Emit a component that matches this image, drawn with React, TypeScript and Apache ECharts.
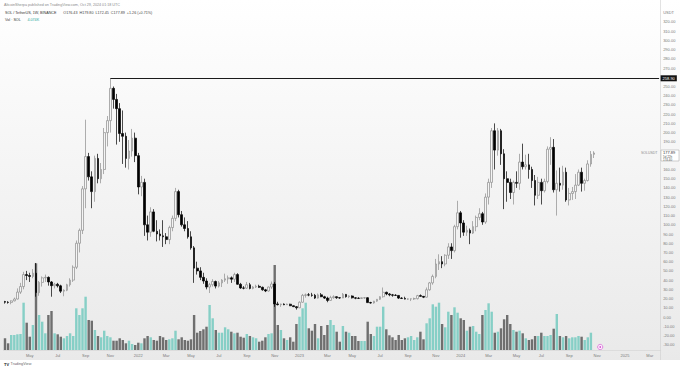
import React, { useEffect, useRef } from 'react';
import * as echarts from 'echarts';

// Weekly SOL/USDT candles, first week starting 2021-03-08
const START_DATE = Date.UTC(2021, 2, 8);
const FUTURE_WEEKS = 21;

// [open, high, low, close]
const ohlc: number[][] = [
  [16.8, 17.5, 14.5, 16.0], [16.0, 17.2, 14.5, 15.8], [15.8, 18.0, 13.8, 17.5], [17.5, 21.0, 17.0, 19.5],
  [19.5, 31.0, 19.0, 27.0], [27.0, 37.0, 25.0, 33.0], [33.0, 49.0, 30.0, 46.0], [46.0, 50.0, 40.0, 45.0],
  [45.0, 48.0, 38.0, 44.0], [44.0, 52.0, 42.0, 47.5], [47.5, 58.6, 22.0, 26.5], [26.5, 39.0, 23.0, 37.5],
  [37.5, 44.0, 33.0, 42.5], [42.5, 46.0, 38.0, 43.0], [43.0, 44.0, 34.0, 38.0], [38.0, 39.0, 22.0, 34.0],
  [34.0, 37.0, 31.0, 35.5], [35.5, 37.0, 32.0, 33.8], [33.8, 35.0, 26.0, 28.0], [28.0, 30.0, 22.5, 29.0],
  [29.0, 36.0, 28.0, 35.0], [35.0, 42.0, 33.0, 40.0], [40.0, 56.0, 38.0, 54.0], [54.0, 83.0, 52.0, 80.0],
  [80.0, 96.0, 70.0, 94.0], [94.0, 142.0, 90.0, 139.0], [139.0, 214.0, 118.0, 174.0], [174.0, 178.0, 148.0, 152.0],
  [152.0, 158.0, 118.0, 136.0], [136.0, 175.0, 125.0, 172.0], [172.0, 177.0, 145.0, 150.0], [150.0, 167.0, 145.0, 160.0],
  [160.0, 205.0, 155.0, 200.0], [200.0, 218.0, 185.0, 213.0], [213.0, 259.0, 200.0, 248.0], [248.0, 250.0, 226.0, 236.0],
  [236.0, 242.0, 187.0, 226.0], [226.0, 232.0, 190.0, 199.0], [199.0, 224.0, 166.0, 196.0], [196.0, 200.0, 162.0, 172.0],
  [172.0, 192.0, 160.0, 180.0], [180.0, 204.0, 174.0, 194.0], [194.0, 200.0, 168.0, 175.0], [175.0, 178.0, 133.0, 141.0],
  [141.0, 153.0, 131.0, 146.0], [146.0, 150.0, 88.0, 100.0], [100.0, 110.0, 83.0, 92.0], [92.0, 119.0, 87.0, 114.0],
  [114.0, 117.0, 92.0, 93.0], [93.0, 105.0, 82.0, 90.0], [90.0, 95.0, 83.0, 88.0], [88.0, 105.0, 76.0, 87.0],
  [87.0, 91.0, 79.0, 84.0], [84.0, 99.0, 79.0, 97.0], [97.0, 110.0, 93.0, 107.0], [107.0, 140.0, 104.0, 136.0],
  [136.0, 138.0, 108.0, 111.0], [111.0, 115.0, 98.0, 100.0], [100.0, 108.0, 93.0, 96.0], [96.0, 104.0, 85.0, 87.0],
  [87.0, 93.0, 73.0, 75.0], [75.0, 77.0, 37.0, 53.0], [53.0, 60.0, 46.0, 50.0], [50.0, 54.0, 40.0, 43.0],
  [43.0, 48.0, 36.0, 39.0], [39.0, 42.0, 30.0, 32.5], [32.5, 37.0, 26.0, 35.0], [35.0, 41.0, 33.0, 38.5],
  [38.5, 39.5, 31.0, 33.5], [33.5, 39.0, 32.0, 37.0], [37.0, 41.0, 32.5, 40.0], [40.0, 47.0, 38.0, 41.5],
  [41.5, 45.0, 36.0, 42.5], [42.5, 44.0, 37.0, 41.0], [41.0, 48.0, 38.0, 46.0], [46.0, 47.5, 35.0, 35.5],
  [35.5, 37.0, 30.5, 31.5], [31.5, 33.5, 30.0, 31.3], [31.3, 38.0, 30.5, 35.0], [35.0, 37.0, 30.0, 31.0],
  [31.0, 33.5, 30.0, 32.5], [32.5, 35.0, 31.5, 33.3], [33.3, 35.0, 31.5, 32.2], [32.2, 33.0, 28.5, 29.5],
  [29.5, 30.5, 27.0, 28.2], [28.2, 33.0, 27.5, 32.5], [32.5, 38.5, 30.5, 35.8], [35.8, 38.0, 11.0, 14.2],
  [14.2, 16.5, 12.5, 13.4], [13.4, 14.5, 11.0, 14.0], [14.0, 14.8, 12.8, 13.3], [13.3, 14.5, 13.0, 13.9],
  [13.9, 14.4, 11.8, 12.2], [12.2, 12.6, 10.8, 11.2], [11.2, 11.8, 8.0, 10.0], [10.0, 17.0, 9.6, 16.0],
  [16.0, 25.0, 15.5, 23.5], [23.5, 25.5, 21.0, 24.0], [24.0, 26.0, 22.5, 23.8], [23.8, 26.2, 22.0, 23.5],
  [23.5, 25.0, 19.5, 20.5], [20.5, 25.5, 20.0, 24.0], [24.0, 26.0, 21.5, 22.0], [22.0, 23.0, 19.5, 20.5],
  [20.5, 22.0, 16.0, 18.0], [18.0, 23.0, 17.5, 21.0], [21.0, 23.5, 19.8, 22.0], [22.0, 22.5, 19.7, 20.9],
  [20.9, 21.5, 19.8, 20.6], [20.6, 26.0, 20.5, 24.5], [24.5, 25.0, 21.0, 22.0], [22.0, 23.5, 20.5, 22.8],
  [22.8, 23.5, 20.0, 20.8], [20.8, 21.5, 19.3, 20.4], [20.4, 21.5, 19.5, 20.2], [20.2, 21.2, 19.5, 20.8],
  [20.8, 21.5, 19.7, 20.9], [20.9, 21.5, 15.3, 15.6], [15.6, 16.5, 14.5, 15.2], [15.2, 17.5, 14.5, 17.2],
  [17.2, 19.5, 16.5, 19.2], [19.2, 22.5, 18.6, 22.0], [22.0, 32.0, 21.0, 26.8], [26.8, 27.5, 23.6, 25.0],
  [25.0, 26.0, 22.5, 24.0], [24.0, 25.0, 22.0, 23.6], [23.6, 24.8, 23.0, 23.4], [23.4, 23.8, 19.5, 20.5],
  [20.5, 21.5, 19.5, 20.2], [20.2, 22.0, 19.0, 19.4], [19.4, 20.2, 18.6, 19.6], [19.6, 20.0, 17.3, 19.7],
  [19.7, 21.0, 18.5, 19.9], [19.9, 24.0, 19.0, 23.2], [23.2, 24.5, 22.0, 22.4], [22.4, 22.8, 20.5, 21.5],
  [21.5, 32.0, 21.0, 29.5], [29.5, 38.0, 28.5, 37.0], [37.0, 46.0, 35.0, 44.0], [44.0, 63.0, 42.0, 57.5],
  [57.5, 68.0, 51.0, 60.0], [60.0, 66.0, 53.0, 57.5], [57.5, 68.0, 55.0, 67.0], [67.0, 80.0, 63.0, 76.0],
  [76.0, 80.0, 63.0, 72.0], [72.0, 100.0, 70.0, 98.0], [98.0, 126.0, 95.0, 113.0], [113.0, 115.0, 86.0, 102.0],
  [102.0, 105.0, 88.0, 92.0], [92.0, 99.0, 88.0, 94.0], [94.0, 96.0, 79.0, 91.0], [91.0, 104.0, 90.0, 98.0],
  [98.0, 110.0, 93.0, 108.0], [108.0, 118.0, 105.0, 112.0], [112.0, 114.0, 100.0, 103.0], [103.0, 134.0, 101.0, 130.0],
  [130.0, 150.0, 122.0, 146.0], [146.0, 205.0, 140.0, 202.0], [202.0, 210.0, 160.0, 181.0], [181.0, 205.0, 175.0, 202.0],
  [202.0, 204.0, 165.0, 177.0], [177.0, 182.0, 117.0, 150.0], [150.0, 158.0, 125.0, 146.0], [146.0, 150.0, 128.0, 135.0],
  [135.0, 148.0, 122.0, 146.0], [146.0, 158.0, 140.0, 145.0], [145.0, 177.0, 138.0, 168.0], [168.0, 188.0, 160.0, 163.0],
  [163.0, 176.0, 160.0, 165.0], [165.0, 177.0, 150.0, 160.0], [160.0, 163.0, 140.0, 148.0], [148.0, 154.0, 121.0, 132.0],
  [132.0, 152.0, 128.0, 146.0], [146.0, 150.0, 122.0, 137.0], [137.0, 150.0, 135.0, 147.0], [147.0, 185.0, 145.0, 182.0],
  [182.0, 195.0, 165.0, 184.0], [184.0, 193.0, 135.0, 138.0], [138.0, 159.0, 110.0, 145.0], [145.0, 162.0, 136.0, 143.0],
  [143.0, 164.0, 138.0, 157.0], [157.0, 162.0, 125.0, 127.0], [127.0, 140.0, 121.0, 134.0], [134.0, 141.0, 127.0, 136.0],
  [136.0, 155.0, 128.0, 143.0], [143.0, 160.0, 142.0, 157.0], [157.0, 162.0, 136.0, 145.0], [145.0, 150.0, 137.0, 148.0],
  [148.0, 170.0, 147.0, 166.0], [166.0, 180.0, 163.0, 176.4], [176.43, 179.80, 172.45, 177.89],
];

// weekly volume (relative units)
const volumes: number[] = [
  11.7, 6.7, 15, 15, 15.7, 16, 47.3, 27.3, 13.3, 25, 86.7, 35, 28.3, 16.7, 35, 39, 16.7, 15.7, 13.3, 11.7,
  14, 16.7, 14, 41.7, 35, 41.7, 53.3, 30, 29.3, 20, 14, 12.7, 19.3, 14, 12.7, 9.3, 9.3, 11.7, 10, 6.7,
  9.3, 6, 5, 7.3, 6.7, 11.7, 14, 12.7, 10, 9.3, 14, 12.7, 10, 10.7, 11.7, 19.3, 10.7, 12.7, 10, 9.3,
  10.7, 35, 17.3, 19, 20.7, 23.3, 45, 31.7, 20, 17.3, 17.3, 22.7, 20.7, 18.3, 16.7, 17.3, 13.3, 12.3, 16, 14,
  12.7, 11.7, 8.3, 9.3, 12.7, 16, 16.7, 85, 25, 20, 11.7, 10, 12.7, 8.3, 26, 33.3, 41.7, 47.3, 21.7, 19.3,
  26, 11.7, 24, 15, 25, 30, 25, 18.3, 8.3, 24, 18.3, 17.3, 14, 14, 9, 9, 9, 28.3, 16, 14,
  23.3, 23.3, 43.3, 20.7, 14.7, 12.7, 10, 15, 10, 11.7, 12.7, 14, 10, 12.7, 18.3, 10.7, 26.7, 31.7, 45.7, 43.3,
  47.3, 26, 22.7, 38.3, 35, 42.7, 37.3, 31.7, 30, 19.3, 23.3, 24, 18.3, 16, 35, 40, 46.7, 38.3, 17.3, 18.3,
  21.7, 30.7, 35, 26, 20, 18.3, 19.3, 16.7, 11.7, 10, 10.7, 14, 14, 17.3, 14, 14, 15, 21.3, 36, 14,
  12.7, 14, 11.7, 12.7, 12.7, 14, 13.3, 10, 12.7, 17.3, 0.05,
];

const MONTHS = ['Jan', 'Feb', 'Mar', 'Apr', 'May', 'Jun', 'Jul', 'Aug', 'Sep', 'Oct', 'Nov', 'Dec'];
const PRICE_MIN = -40;
const PRICE_MAX = 340;
const PRICE_STEP = 10;
const RESISTANCE = 258.9;
const RESISTANCE_FROM = 34;
const LAST_PRICE = 177.89;
const HEADER_1 = 'AltcoinSherpa published on TradingView.com, Oct 29, 2024 01:18 UTC';
const HEADER_2 = 'SOL / TetherUS, 1W, BINANCE';
const HEADER_OHLC = 'O176.43  H179.80  L172.45  C177.89  +1.26 (+0.71%)';
const HEADER_VOL = '4.074K';

const FONT = '"Liberation Sans", Arial, sans-serif';
const UP_VOL = '#86cfc6';
const DOWN_VOL = '#6f6f6f';

export default function App() {
  const ref = useRef<HTMLDivElement>(null);
  useEffect(() => {
    const chart = echarts.init(ref.current!, null, { renderer: 'svg' });
    const n = ohlc.length + FUTURE_WEEKS;
    const dates = Array.from({ length: n }, (_, i) => new Date(START_DATE + i * 7 * 86400000));
    const cats = dates.map((d) => d.toISOString().slice(0, 10));
    const showLabel = (idx: number) => {
      const d = dates[idx];
      return d.getUTCDate() <= 7 && d.getUTCMonth() % 2 === 0;
    };
    const fmtLabel = (_v: string, idx: number) => {
      const d = dates[idx];
      return d.getUTCMonth() === 0 ? String(d.getUTCFullYear()) : MONTHS[d.getUTCMonth()];
    };
    const candleData = ohlc.map(([o, h, l, c]) => [o, c, l, h]);
    const volData = volumes.map((v, i) => ({
      value: v,
      itemStyle: { color: ohlc[i][3] >= ohlc[i][0] ? UP_VOL : DOWN_VOL },
    }));
    const gridL = 3.45;
    const gridR = 19.35;

    chart.setOption({
      animation: false,
      grid: [
        { left: gridL, right: gridR, top: 3.52, bottom: 17.12 },
        { left: gridL, right: gridR, top: 250, bottom: 21 },
      ],
      xAxis: [
        { type: 'category', data: cats, gridIndex: 0, show: false, boundaryGap: true },
        {
          type: 'category', data: cats, gridIndex: 1, boundaryGap: true,
          axisLine: { show: true, lineStyle: { color: '#d2d2d2', width: 0.6 } },
          axisTick: { show: false },
          axisLabel: {
            interval: (idx: number) => showLabel(idx),
            formatter: fmtLabel,
            fontSize: 4, color: '#7a7a7a', margin: 3, fontFamily: FONT,
          },
          splitLine: { show: false },
        },
      ],
      yAxis: [
        {
          type: 'value', gridIndex: 0, position: 'right', min: PRICE_MIN, max: PRICE_MAX, interval: PRICE_STEP,
          axisLine: { show: false }, axisTick: { show: false }, splitLine: { show: false },
          axisLabel: {
            fontSize: 4, color: '#7a7a7a', margin: 2.5, fontFamily: FONT,
            formatter: (v: number) => {
              if (v === 330) return 'USDT';
              if (v < -30 || v > 320) return '';
              if (Math.abs(v - LAST_PRICE) < 10 || Math.abs(v - RESISTANCE) < 5) return '';
              return v.toFixed(2);
            },
          },
        },
        { type: 'value', gridIndex: 1, min: 0, max: 100, show: false },
      ],
      series: [
        {
          type: 'bar', xAxisIndex: 1, yAxisIndex: 1, data: volData, barWidth: '78%', z: 1,
        },
        {
          type: 'candlestick', xAxisIndex: 0, yAxisIndex: 0, data: candleData, barWidth: '68%', z: 3,
          itemStyle: {
            color: '#f4f4f4', color0: '#000000', borderColor: '#8c8c8c', borderColor0: '#000000', borderWidth: 0.7,
          },
          markLine: {
            silent: true, symbol: ['none', 'none'], animation: false,
            lineStyle: { color: '#1b1b1b', width: 1, type: 'solid' },
            label: {
              show: true, position: 'end', formatter: RESISTANCE.toFixed(2), color: '#ffffff',
              backgroundColor: '#111111', fontSize: 4, padding: [1, 2, 1, 2], distance: 1.5, fontFamily: FONT,
            },
            data: [[{ coord: [cats[RESISTANCE_FROM], RESISTANCE] }, { coord: [cats[n - 1], RESISTANCE] }]],
          },
        },
      ],
    });

    const yLast = chart.convertToPixel({ yAxisIndex: 0 }, LAST_PRICE) as number;
    const xMark = chart.convertToPixel({ xAxisIndex: 1 }, cats[ohlc.length + 1]) as number;
    chart.setOption({
      graphic: [
        { type: 'line', shape: { x1: 660.5, y1: 0, x2: 660.5, y2: 360 }, style: { stroke: '#cfcfcf', lineWidth: 0.6 }, silent: true },
        { type: 'text', x: 4, y: 5, style: { text: HEADER_1, fontSize: 3.7, fill: '#8a8a8a', fontFamily: FONT, verticalAlign: 'middle' } },
        {
          type: 'text', x: 5, y: 13,
          style: {
            text: `{a|${HEADER_2}}  {b|${HEADER_OHLC}}`, fontFamily: FONT, verticalAlign: 'middle',
            rich: { a: { fontSize: 3.7, fill: '#333333' }, b: { fontSize: 3.7, fill: '#444444' } },
          },
        },
        {
          type: 'text', x: 5, y: 19.5,
          style: {
            text: `{a|Vol · SOL}  {b|${HEADER_VOL}}`, fontFamily: FONT, verticalAlign: 'middle',
            rich: { a: { fontSize: 3.7, fill: '#333333' }, b: { fontSize: 3.7, fill: '#26a69a' } },
          },
        },
        { type: 'text', x: 657.5, y: yLast + 0.5, style: { text: 'SOLUSDT', fontSize: 3.5, fill: '#8a8a8a', fontFamily: FONT, align: 'right', verticalAlign: 'middle' } },
        { type: 'rect', shape: { x: 661, y: yLast - 3, width: 18, height: 11 }, style: { fill: '#ffffff', stroke: '#a0a0a0', lineWidth: 0.5 } },
        { type: 'text', x: 663, y: yLast, style: { text: LAST_PRICE.toFixed(2), fontSize: 4, fill: '#333333', fontFamily: FONT, verticalAlign: 'middle' } },
        { type: 'text', x: 663, y: yLast + 3.6, style: { text: '5d 22h', fontSize: 3, fill: '#555555', fontFamily: FONT, verticalAlign: 'middle' } },
        { type: 'text', x: 663, y: yLast + 6.6, style: { text: '174.40', fontSize: 3, fill: '#555555', fontFamily: FONT, verticalAlign: 'middle' } },
        { type: 'circle', shape: { cx: xMark, cy: 347, r: 2.6 }, style: { fill: '#fdeefb', stroke: '#d65ad8', lineWidth: 0.7 } },
        { type: 'circle', shape: { cx: xMark, cy: 347, r: 0.9 }, style: { fill: '#d65ad8' } },
        { type: 'text', x: 4, y: 364, style: { text: 'TV', fontSize: 4, fontWeight: 'bold', fill: '#222222', fontFamily: FONT, verticalAlign: 'middle' } },
        { type: 'text', x: 10.5, y: 364, style: { text: 'TradingView', fontSize: 3.8, fill: '#6a6a6a', fontFamily: FONT, verticalAlign: 'middle' } },
      ],
    });

    return () => chart.dispose();
  }, []);
  return (
    <div
      ref={ref}
      style={{
        position: 'fixed', left: 0, top: 0, width: 680, height: 371,
        background: 'linear-gradient(180deg, #ffffff 0px, #f4f4f4 180px, #eaeaea 350px, #e9e9e9 360px, #ffffff 360px, #ffffff 371px)',
      }}
    />
  );
}
